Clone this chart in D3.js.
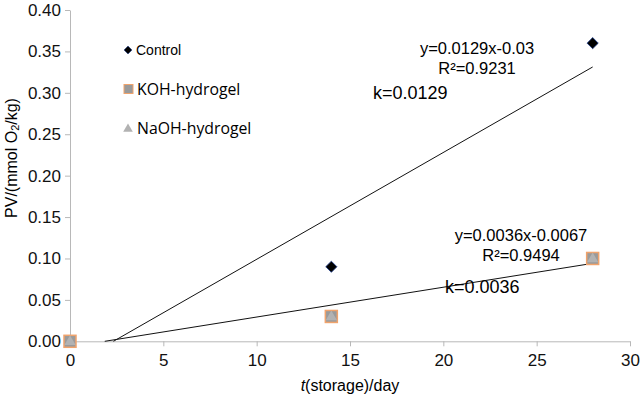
<!DOCTYPE html>
<html lang="en">
<head>
<meta charset="UTF-8">
<title>PV vs storage</title>
<style>
  body { margin: 0; background: #fff; }
  svg { display: block; font-family: "Liberation Sans", Arial, sans-serif; }
</style>
</head>
<body>
<svg id="chart" width="640" height="397"></svg>
<script src="https://d3js.org/d3.v7.min.js"></script>
<script>
// data
const days = [0, 14, 28];
const control = [0, 0.09, 0.36];
const kohGel = [0, 0.03, 0.10];
const naohGel = [0, 0.03, 0.10];
const xTicks = [0, 5, 10, 15, 20, 25, 30];
const yTicks = [0, 0.05, 0.10, 0.15, 0.20, 0.25, 0.30, 0.35, 0.40];
// trend lines: slope, intercept, label texts
const fitControl = { k: 0.0129, b: -0.03, eq: "y=0.0129x-0.03", r2: "R²=0.9231", kLabel: "k=0.0129" };
const fitGel = { k: 0.0036, b: -0.0067, eq: "y=0.0036x-0.0067", r2: "R²=0.9494", kLabel: "k=0.0036" };

const svg = d3.select("#chart");
const x = d3.scaleLinear().domain([0, 30]).range([70, 630]);
const y = d3.scaleLinear().domain([0, 0.40]).range([341.3, 10]);

// axes
const xAxis = svg.append("g")
  .attr("transform", "translate(0," + y(0) + ")")
  .call(d3.axisBottom(x).tickValues(xTicks).tickSize(5).tickSizeOuter(0).tickFormat(d3.format("d")));
const yAxis = svg.append("g")
  .attr("transform", "translate(" + x(0) + ",0)")
  .call(d3.axisLeft(y).tickValues(yTicks).tickSize(5).tickSizeOuter(0).tickFormat(d3.format(".2f")));

[xAxis, yAxis].forEach(function (g) {
  g.select(".domain").attr("stroke", "#b8b8b8");
  g.selectAll(".tick line").attr("stroke", "#b8b8b8");
  g.selectAll(".tick text").attr("fill", "#111").style("font-size", "17px")
    .style("font-family", "'Liberation Sans', Arial, sans-serif");
});
xAxis.selectAll(".tick text").attr("dy", "1em");
yAxis.selectAll(".tick text").attr("x", -9);

// trend lines, clipped at y = 0
function trend(f) {
  const x0 = Math.max(0, -f.b / f.k);
  return [[x0, f.k * x0 + f.b], [28, f.k * 28 + f.b]];
}
const line = d3.line().x(d => x(d[0])).y(d => y(d[1]));
[fitControl, fitGel].forEach(function (f) {
  svg.append("path").attr("d", line(trend(f)))
    .attr("fill", "none").attr("stroke", "#111").attr("stroke-width", 1);
});

// markers
const sq = 12;
svg.append("g").selectAll("rect").data(days.map((d, i) => [d, kohGel[i]])).enter()
  .append("rect")
  .attr("x", d => x(d[0]) - sq / 2).attr("y", d => y(d[1]) - sq / 2)
  .attr("width", sq).attr("height", sq)
  .attr("fill", "#9a9a9a").attr("stroke", "#f0a36c").attr("stroke-width", 1.5);

const tri = d3.symbol().type(d3.symbolTriangle).size(55);
svg.append("g").selectAll("path").data(days.map((d, i) => [d, naohGel[i]])).enter()
  .append("path")
  .attr("d", tri)
  .attr("transform", d => "translate(" + x(d[0]) + "," + (y(d[1]) + 0.5) + ")")
  .attr("fill", "#b2b2b2");

const diamond = d3.symbol().type(d3.symbolDiamond2).size(80);
svg.append("g").selectAll("path").data(days.map((d, i) => [d, control[i]]).filter(d => d[1] > 0)).enter()
  .append("path")
  .attr("d", diamond)
  .attr("transform", d => "translate(" + x(d[0]) + "," + y(d[1]) + ")")
  .attr("fill", "#000").attr("stroke", "#1f3d8a").attr("stroke-width", 0.8);

// fit labels
function fitText(f, cx, cy, kx, ky) {
  svg.append("text").attr("x", cx).attr("y", cy).attr("text-anchor", "middle")
    .attr("dominant-baseline", "central").style("font-size", "16.5px").text(f.eq);
  svg.append("text").attr("x", cx).attr("y", cy + 19.5).attr("text-anchor", "middle")
    .attr("dominant-baseline", "central").style("font-size", "16.5px").text(f.r2);
  svg.append("text").attr("x", kx).attr("y", ky)
    .attr("dominant-baseline", "central").style("font-size", "18px").text(f.kLabel);
}
fitText(fitControl, 477, 48, 373, 93);
fitText(fitGel, 521, 235, 445, 287);

// legend
const legend = svg.append("g").style("font-family", "'Open Sans', 'Noto Sans', sans-serif");
legend.append("path").attr("d", d3.symbol().type(d3.symbolDiamond2).size(40))
  .attr("transform", "translate(128,50)").attr("fill", "#000").attr("stroke", "#1f3d8a").attr("stroke-width", 0.6);
legend.append("text").attr("x", 136).attr("y", 50).attr("dominant-baseline", "central")
  .style("font-family", "'Liberation Sans', Arial, sans-serif").style("font-size", "14px").text("Control");
legend.append("rect").attr("x", 124).attr("y", 84.5).attr("width", 9).attr("height", 9)
  .attr("fill", "#9a9a9a").attr("stroke", "#f0a36c").attr("stroke-width", 1);
legend.append("text").attr("x", 137).attr("y", 89).attr("dominant-baseline", "central")
  .style("font-size", "15.8px").text("KOH-hydrogel");
legend.append("path").attr("d", d3.symbol().type(d3.symbolTriangle).size(40))
  .attr("transform", "translate(128,129)").attr("fill", "#b2b2b2");
legend.append("text").attr("x", 137).attr("y", 128).attr("dominant-baseline", "central")
  .style("font-size", "15.8px").text("NaOH-hydrogel");

// axis titles
const xt = svg.append("text").attr("x", 350).attr("y", 385).attr("text-anchor", "middle")
  .attr("dominant-baseline", "central").style("font-size", "16px");
xt.append("tspan").style("font-style", "italic").text("t");
xt.append("tspan").text("(storage)/day");

const yt = svg.append("text").attr("transform", "translate(11,158) rotate(-90)")
  .attr("text-anchor", "middle").attr("dominant-baseline", "central").style("font-size", "16px");
yt.append("tspan").text("PV/(mmol O");
yt.append("tspan").attr("dy", 4).style("font-size", "11px").text("2");
yt.append("tspan").attr("dy", -4).text("/kg)");
</script>
</body>
</html>
